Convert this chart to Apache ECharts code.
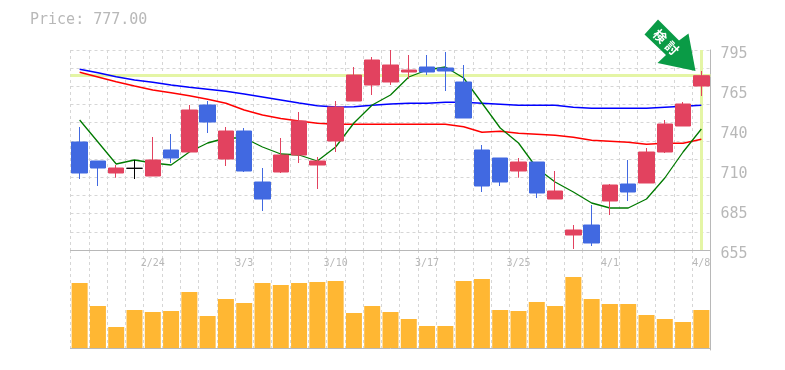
<!DOCTYPE html>
<html>
<head>
<meta charset="utf-8">
<title>Price chart</title>
<script src="https://fastly.jsdelivr.net/npm/echarts@6/dist/echarts.min.js"></script>
<style>
html, body { margin: 0; padding: 0; background: #fff; }
#chartdiv { width: 785px; height: 370px; }
</style>
</head>
<body>
<div id="chartdiv"></div>
<script>
const dates = ['2/18','2/19','2/20','2/21','2/24','2/25','2/26','2/27','2/28','3/3','3/4','3/5','3/6','3/7','3/10','3/11','3/12','3/13','3/14','3/17','3/18','3/19','3/21','3/24','3/25','3/26','3/27','3/28','3/31','4/1','4/2','4/3','4/4','4/7','4/8'];
const dateLabels = ['2/24','3/3','3/10','3/17','3/25','4/1','4/8'];
const priceLabels = ['655','685','710','740','765','795'];

const opens  = [730.6,717.3,708.9,712.2,706.8,725,723.6,756.5,718.7,738.3,702.6,709.6,721.5,714.5,731.3,759.3,770.5,772.6,779.6,783.1,782.4,772.6,725,719.4,710.3,716.6,690.7,665.5,672.5,689.3,701.2,701.9,723.6,741.8,769.8];
const closes = [708.9,712.4,712.4,712.2,718,719.4,753,744.6,738.3,710.3,690.7,721.5,745.3,717.3,755.1,777.5,788,784.5,781,779.6,780.3,747.4,699.8,702.6,716.6,694.9,696.3,669,659.9,700.5,695.6,723.6,743.2,757.2,777];
const lows   = [704.7,699.8,705.6,704.7,706.8,715.9,723.6,736.9,713.8,709.6,682.3,708.9,715.9,697.7,723.6,759.3,763.5,770.5,774.7,777.5,766.3,747.4,695.6,699.8,705.6,691.4,690.7,655.7,657.8,679.5,689.3,701.9,722.9,741.8,762.8];
const highs  = [741.1,717.3,714.5,718,734.1,736.2,756.5,759.3,741.1,740.4,712.4,733.4,751.6,720.1,759.3,783.1,790.1,795,791.5,791.5,793.6,784.5,728.5,719.4,719.4,716.6,710.3,672.5,686.5,701.2,718,726.4,746,758.6,780.3];

const maShort = [746,730.6,715.2,718,715.9,714.5,723.6,729.9,733.4,733.4,727.1,722.2,721.5,717.3,727.1,743.9,756.5,763.5,776.1,781,783.1,775.4,757.9,740.4,729.9,712.4,702.6,695.6,687.9,684.4,684.4,690.7,705.4,723.6,739.7];
const maMid   = [781.5,779.1,776.3,774,772.4,770.5,768.9,767.5,766.1,764.2,762.1,760,757.9,756,755.1,755.3,756.3,757.2,757.7,757.7,758.4,758.4,757.7,757,756.3,756.3,756.3,754.9,754.2,754.2,754.2,754.2,754.9,755.6,756.3];
const maLong  = [779.4,776.1,772.8,769.8,767,765.1,763,760.5,757.7,753,749.5,747.1,745.3,743.7,743,743,743,743,743,743,743,741.3,737.4,738.1,736.7,736,735.3,733.9,731.8,731.1,730.4,729,729.7,729.7,732.5];

const volumes = [65,42,21,38,36,37,56,32,49,45,65,63,65,66,67,35,42,36,29,22,22,67,69,38,37,46,42,71,49,44,44,33,29,26,38];

const lastPrice = 777;
const lastDate = '4/8';

const gray = '#b8b8b8';
const gridGray = '#d6d6d6';
const mono = '"DejaVu Sans Mono", monospace';
const dashed = { show: true, lineStyle: { color: gridGray, type: [3, 3], width: 1 } };

const candles = dates.map((d, i) => [opens[i], closes[i], lows[i], highs[i]]);

function maSeries(values, color, width) {
  return {
    type: 'line',
    data: values,
    xAxisIndex: 0,
    yAxisIndex: 0,
    symbol: 'none',
    z: 3,
    lineStyle: { color: color, width: width }
  };
}

function stampGlyph(ch, x, y) {
  return {
    type: 'text',
    z: 11,
    x: x,
    y: y,
    rotation: -Math.PI / 4,
    style: {
      text: ch,
      fill: '#fff',
      fontFamily: '"Noto Sans CJK JP"',
      fontWeight: 'bold',
      fontSize: 13,
      align: 'center',
      verticalAlign: 'middle'
    }
  };
}

var myChart = echarts.init(document.getElementById('chartdiv'));
myChart.setOption({
  animation: false,
  backgroundColor: '#fff',
  title: {
    text: 'Price: ' + lastPrice.toFixed(2),
    left: 25,
    top: 8,
    textStyle: { color: gray, fontFamily: mono, fontSize: 15, fontWeight: 'normal' }
  },
  grid: [
    { left: 70.5, top: 50, width: 640, height: 200 },
    { left: 70.5, top: 250, width: 640, height: 100 }
  ],
  xAxis: [
    {
      type: 'category',
      gridIndex: 0,
      data: dates,
      axisLine: { show: true, lineStyle: { color: gray, width: 1 } },
      axisTick: { show: false },
      splitLine: Object.assign({ interval: 0 }, dashed),
      axisLabel: {
        interval: (i, v) => dateLabels.includes(v),
        color: gray,
        fontFamily: mono,
        fontSize: 10,
        margin: 8
      }
    },
    {
      type: 'category',
      gridIndex: 1,
      data: dates,
      axisLine: { show: true, lineStyle: { color: gray, width: 1 } },
      axisTick: { show: false },
      axisLabel: { show: false },
      splitLine: Object.assign({ interval: 0 }, dashed)
    }
  ],
  yAxis: [
    {
      type: 'value',
      gridIndex: 0,
      position: 'right',
      min: 655,
      max: 795,
      interval: 140 / 11,
      axisLine: { show: true, lineStyle: { color: gray, width: 1 } },
      axisTick: { show: false },
      axisLabel: { show: false },
      splitLine: dashed
    },
    {
      type: 'value',
      gridIndex: 0,
      position: 'right',
      min: 655,
      max: 795,
      interval: 28,
      axisLine: { show: false },
      axisTick: { show: false },
      splitLine: { show: false },
      axisLabel: {
        formatter: (v, i) => priceLabels[i],
        color: gray,
        fontFamily: mono,
        fontSize: 15,
        margin: 10,
        verticalAlign: 'top',
        lineHeight: 9,
        showMinLabel: true,
        showMaxLabel: true
      }
    },
    {
      type: 'value',
      gridIndex: 1,
      position: 'right',
      min: -2,
      max: 98,
      axisLine: { show: true, lineStyle: { color: gray, width: 1 } },
      axisTick: { show: false },
      axisLabel: { show: false },
      splitLine: { show: false }
    }
  ],
  series: [
    maSeries(maLong, '#ff0000', 1.5),
    maSeries(maMid, '#0000ff', 1.5),
    maSeries(maShort, '#007a00', 1.3),
    {
      type: 'candlestick',
      data: candles,
      xAxisIndex: 0,
      yAxisIndex: 0,
      barWidth: 16,
      z: 4,
      itemStyle: {
        color: '#e2425f',
        color0: '#4169e1',
        borderColor: '#e2425f',
        borderColor0: '#4169e1',
        borderColorDoji: '#000000',
        borderWidth: 1
      },
      markLine: {
        silent: true,
        symbol: 'none',
        label: { show: false },
        z: 1,
        lineStyle: { color: '#e4f5a5', width: 3, type: 'solid' },
        data: [
          { yAxis: lastPrice },
          { xAxis: lastDate }
        ]
      }
    },
    {
      type: 'bar',
      data: volumes,
      xAxisIndex: 1,
      yAxisIndex: 2,
      barWidth: 16,
      itemStyle: { color: '#ffb733' }
    }
  ],
  graphic: [
    {
      type: 'polygon',
      z: 10,
      shape: { points: [[658, 19.5], [644.5, 34.5], [666, 55], [657.5, 63], [695.5, 71], [688.5, 33.5], [679, 40.5]] },
      style: { fill: '#0a9b46' }
    },
    stampGlyph('検', 660, 36),
    stampGlyph('討', 672, 48)
  ]
});
</script>
</body>
</html>
